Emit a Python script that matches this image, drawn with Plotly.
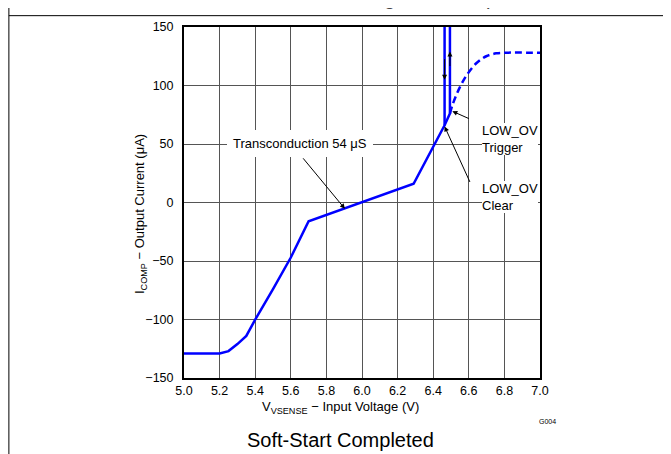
import plotly.graph_objects as go

# ---- data ----
clear_v = [5.0, 5.2, 5.25, 5.3, 5.35, 5.4, 5.5, 5.6, 5.7, 6.0, 6.29, 6.464, 6.464]
clear_i = [-129, -129, -127, -121, -114, -100, -74, -47, -16, 0, 16, 66, 160]

trigger_v = [6.464, 6.494, 6.494]
trigger_i = [66, 76, 160]

soft_v = [6.494, 6.51, 6.548, 6.589, 6.642, 6.698, 6.754, 6.8, 7.0]
soft_i = [76, 84, 98, 109, 119, 125, 127.5, 128, 128]

x_ticks = [5.0, 5.2, 5.4, 5.6, 5.8, 6.0, 6.2, 6.4, 6.6, 6.8, 7.0]
y_ticks = [-150, -100, -50, 0, 50, 100, 150]

BLUE = "#0000FF"
FONT = "Liberation Sans, Arial, sans-serif"

fig = go.Figure()
fig.add_trace(go.Scatter(x=clear_v, y=clear_i, mode="lines",
                         line=dict(color=BLUE, width=2.5), hoverinfo="skip"))
fig.add_trace(go.Scatter(x=trigger_v, y=trigger_i, mode="lines",
                         line=dict(color=BLUE, width=2.5), hoverinfo="skip"))
fig.add_trace(go.Scatter(x=soft_v, y=soft_i, mode="lines",
                         line=dict(color=BLUE, width=2.5, dash="7px,4px", shape="spline"),
                         hoverinfo="skip"))

fig.update_layout(
    width=671, height=454,
    margin=dict(l=176, r=139, t=14, b=84),
    paper_bgcolor="white", plot_bgcolor="white",
    showlegend=False,
    font=dict(family=FONT, color="#000", size=12.5),
)

fig.update_xaxes(range=[5.0, 7.0], tickvals=x_ticks,
                 ticktext=[f"{v:.1f}" for v in x_ticks],
                 showgrid=True, gridcolor="#555", gridwidth=1,
                 showline=True, linecolor="black", linewidth=2, mirror=True,
                 zeroline=False, ticks="", ticklabelstandoff=0,
                 tickfont=dict(size=12.5, family=FONT))
fig.update_yaxes(range=[-150, 150], tickvals=y_ticks,
                 showgrid=True, gridcolor="#555", gridwidth=1,
                 showline=True, linecolor="black", linewidth=2, mirror=True,
                 zeroline=False, ticks="", ticklabelstandoff=6,
                 tickfont=dict(size=12.5, family=FONT))

anns = []
# axis titles
anns.append(dict(xref="paper", yref="paper", x=-0.122, y=0.466, textangle=-90,
                 text="I<sub>COMP</sub> − Output Current (μA)", showarrow=False,
                 font=dict(size=13), xanchor="center", yanchor="middle"))
anns.append(dict(xref="paper", yref="paper", x=0.441, y=-0.0843,
                 text="V<sub>VSENSE</sub> − Input Voltage (V)", showarrow=False,
                 font=dict(size=13), xanchor="center", yanchor="middle"))
anns.append(dict(xref="paper", yref="paper", x=0.441, y=-0.177,
                 text="Soft-Start Completed", showarrow=False,
                 font=dict(size=20), xanchor="center", yanchor="middle"))
anns.append(dict(xref="paper", yref="paper", x=1.021, y=-0.1236,
                 text="G004", showarrow=False,
                 font=dict(size=7), xanchor="center", yanchor="middle"))
# cut-off caption fragments at the very top
anns.append(dict(xref="paper", yref="paper", x=0.578, y=1.0815, text="g",
                 showarrow=False, font=dict(size=20, color="#444"),
                 xanchor="center", yanchor="middle"))
anns.append(dict(xref="paper", yref="paper", x=0.864, y=1.0815, text="p",
                 showarrow=False, font=dict(size=20, color="#444"),
                 xanchor="center", yanchor="middle"))

# arrows
anns.append(dict(x=5.904, y=-5.4, ax=-43, ay=-52, text="", showarrow=True,
                 arrowhead=2, arrowsize=1, arrowwidth=1, arrowcolor="black"))
anns.append(dict(x=6.5075, y=78, ax=18, ay=8, text="", showarrow=True,
                 arrowhead=2, arrowsize=1, arrowwidth=1, arrowcolor="black"))
anns.append(dict(x=6.464, y=65, ax=26, ay=57, text="", showarrow=True,
                 arrowhead=2, arrowsize=1, arrowwidth=1, arrowcolor="black"))
anns.append(dict(x=6.494, y=129, ax=0, ay=16, text="", showarrow=True,
                 arrowhead=2, arrowsize=1, arrowwidth=1, arrowcolor="black"))
anns.append(dict(x=6.464, y=105, ax=0, ay=-22, text="", showarrow=True,
                 arrowhead=2, arrowsize=1, arrowwidth=1, arrowcolor="black"))

# labels with white boxes
anns.append(dict(x=5.652, y=50.5, text="Transconduction 54 μS", showarrow=False,
                 bgcolor="white", borderpad=6, borderwidth=0, font=dict(size=13),
                 xanchor="center", yanchor="middle"))
anns.append(dict(x=6.672, y=54.7, text="LOW_OV<br>Trigger", showarrow=False,
                 bgcolor="white", borderpad=0, borderwidth=0, font=dict(size=13),
                 align="left", xanchor="left", yanchor="middle"))
anns.append(dict(x=6.672, y=5, text="LOW_OV<br>Clear", showarrow=False,
                 bgcolor="white", borderpad=0, borderwidth=0, font=dict(size=13),
                 align="left", xanchor="left", yanchor="middle"))
fig.update_layout(annotations=anns)

# page frame lines
fig.add_shape(type="line", xref="paper", yref="paper", x0=-0.4919, x1=1.37,
              y0=1.0323, y1=1.0323, line=dict(color="black", width=1))
fig.add_shape(type="line", xref="paper", yref="paper", x0=-0.4919, x1=-0.4919,
              y0=1.07, y1=-0.22, line=dict(color="black", width=1))

fig.write_html("out.html")
